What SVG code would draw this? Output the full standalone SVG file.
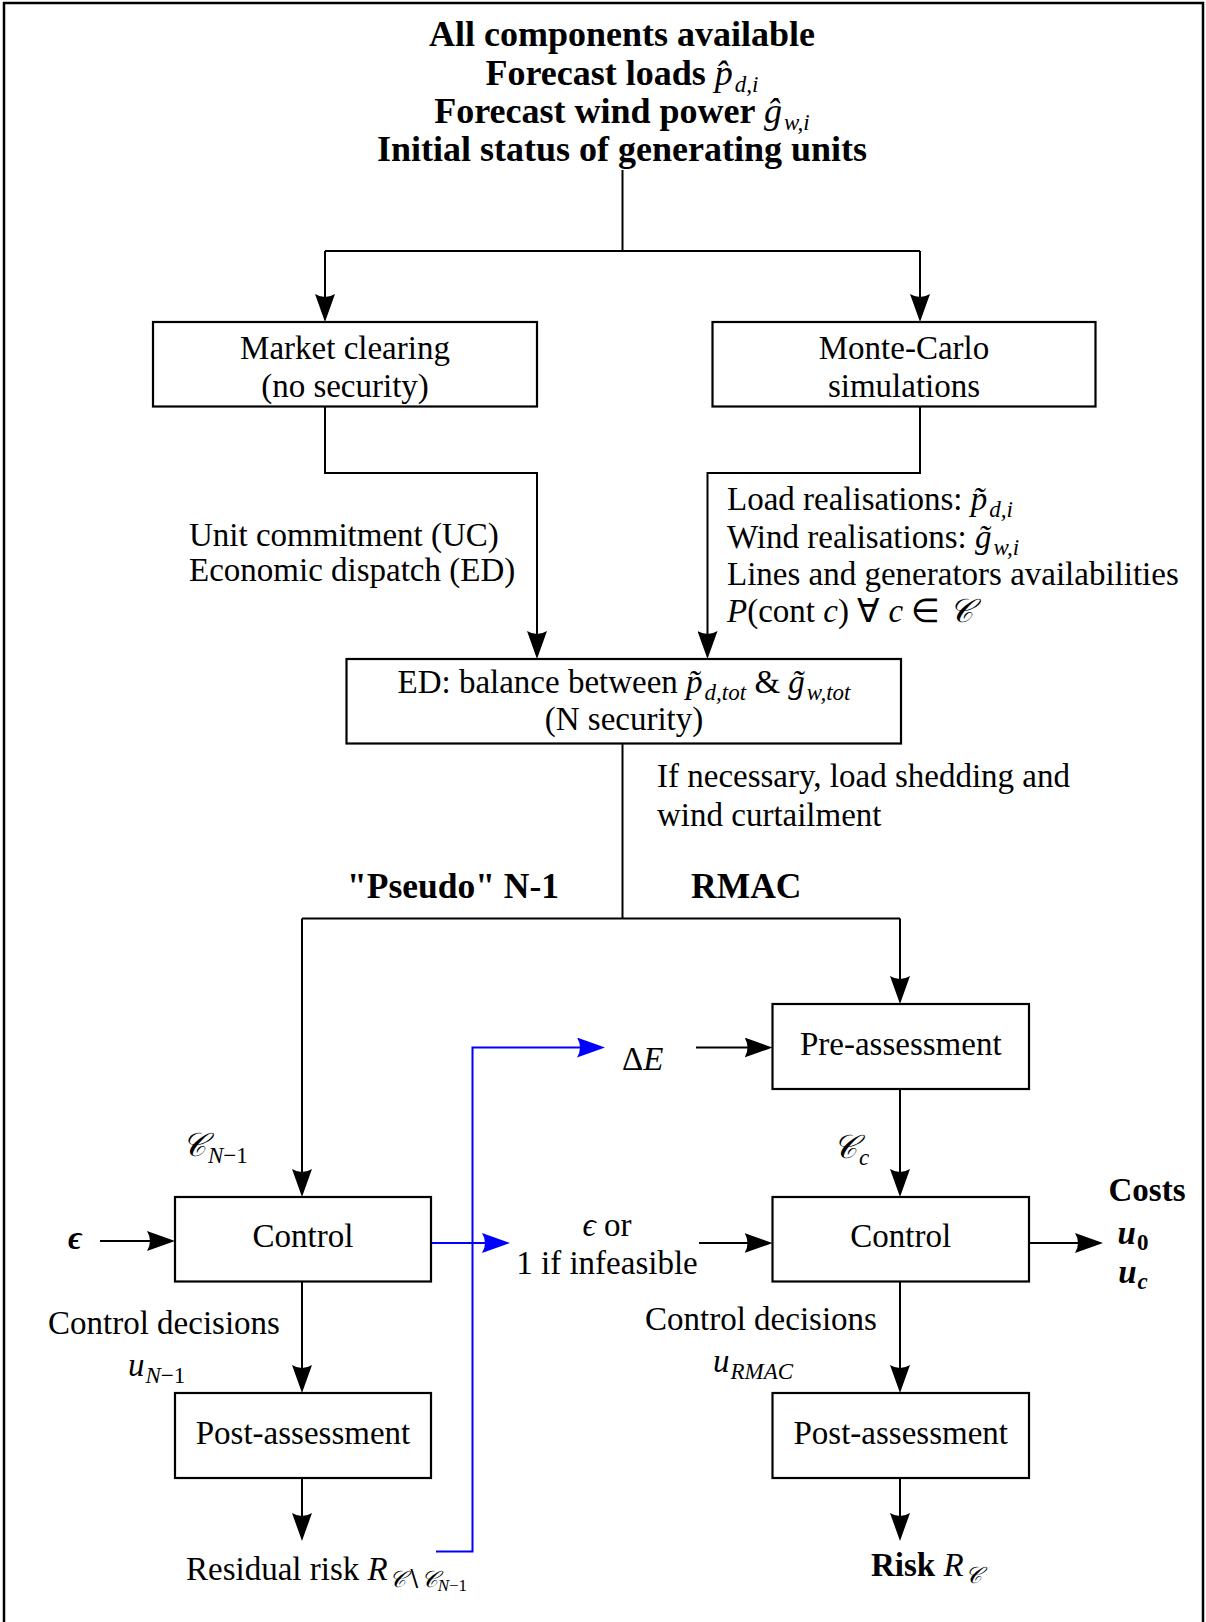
<svg xmlns="http://www.w3.org/2000/svg" width="1206" height="1622" viewBox="0 0 1206 1622">
  <defs>
    <marker id="ah" viewBox="0 0 28 20" refX="20" refY="10" markerWidth="28" markerHeight="20" markerUnits="userSpaceOnUse" orient="auto">
      <path d="M28,10 Q14,5 0,0 Q6,10 0,20 Q14,15 28,10 Z" fill="#000"/>
    </marker>
    <marker id="ahb" viewBox="0 0 28 20" refX="20" refY="10" markerWidth="28" markerHeight="20" markerUnits="userSpaceOnUse" orient="auto">
      <path d="M28,10 Q14,5 0,0 Q6,10 0,20 Q14,15 28,10 Z" fill="#0000ff"/>
    </marker>
    <style>
      .t { font-size: 33px; fill: #000; }
      .b { font-weight: bold; }
      .h { font-size: 36px; }
      .k { font-size: 35.5px; }
      .m { font-style: italic; font-weight: normal; }
      .s { font-size: 23px; }
      .ss { font-size: 17px; }
      .c { text-anchor: middle; }
      .box { fill: #fff; stroke: #000; stroke-width: 2.2; }
      .ln { fill: none; stroke: #000; stroke-width: 2; }
      .ar { fill: none; stroke: #000; stroke-width: 2; marker-end: url(#ah); }
      .bl { fill: none; stroke: #0000ff; stroke-width: 2; marker-end: url(#ahb); }
    </style>
  </defs>

  <rect x="4" y="3" width="1199" height="1640" fill="#fff" stroke="#000" stroke-width="2.5"/>

  <!-- connectors -->
  <g id="connectors">
    <path class="ln" d="M622.5,170 V251"/>
    <path class="ln" d="M325,251 H920"/>
    <path class="ar" d="M325,251 V314"/>
    <path class="ar" d="M920,251 V314"/>
    <path class="ar" d="M325,406.5 V473 H537 V651"/>
    <path class="ar" d="M920,406.5 V473 H707.5 V651"/>
    <path class="ln" d="M622.5,743.5 V918.5"/>
    <path class="ln" d="M302,918.5 H900"/>
    <path class="ar" d="M302,918.5 V1189"/>
    <path class="ar" d="M900,918.5 V996"/>
    <path class="ar" d="M696,1047.5 H764.5"/>
    <path class="ar" d="M900,1089 V1189"/>
    <path class="ar" d="M100,1241 H167"/>
    <path class="ar" d="M699,1243 H764.5"/>
    <path class="ar" d="M1028,1243 H1095"/>
    <path class="ar" d="M302,1281.5 V1385"/>
    <path class="ar" d="M302,1478 V1533"/>
    <path class="ar" d="M900,1281.5 V1385"/>
    <path class="ar" d="M900,1478 V1533"/>
    <path class="bl" d="M431,1243 H502"/>
    <path class="bl" d="M436,1551.5 H472.5 V1047.5 H597"/>
  </g>

  <g font-family="Liberation Serif, Times New Roman, serif">
    <!-- inputs -->
    <g id="inputs">
      <text class="t b h c" x="622" y="46">All components available</text>
      <text class="t b h c" x="622" y="85">Forecast loads <tspan class="m">p̂</tspan><tspan class="m s" dx="2" dy="7">d,i</tspan></text>
      <text class="t b h c" x="622" y="123">Forecast wind power <tspan class="m">ĝ</tspan><tspan class="m s" dx="2" dy="7">w,i</tspan></text>
      <text class="t b h c" x="622" y="161">Initial status of generating units</text>
    </g>

    <g id="market">
      <rect class="box" x="153" y="322" width="384" height="84.5"/>
      <text class="t c" x="345" y="359">Market clearing</text>
      <text class="t c" x="345" y="397">(no security)</text>
    </g>

    <g id="montecarlo">
      <rect class="box" x="712.5" y="322" width="383" height="84.5"/>
      <text class="t c" x="904" y="359">Monte-Carlo</text>
      <text class="t c" x="904" y="397">simulations</text>
    </g>

    <g id="uc-label">
      <text class="t" x="189" y="546">Unit commitment (UC)</text>
      <text class="t" x="189" y="581">Economic dispatch (ED)</text>
    </g>

    <g id="mc-label">
      <text class="t" x="727" y="510">Load realisations: <tspan class="m">p̃</tspan><tspan class="m s" dx="2" dy="7">d,i</tspan></text>
      <text class="t" x="727" y="548">Wind realisations: <tspan class="m">g̃</tspan><tspan class="m s" dx="2" dy="7">w,i</tspan></text>
      <text class="t" x="727" y="585">Lines and generators availabilities</text>
      <text class="t" x="727" y="622"><tspan class="m">P</tspan>(cont <tspan class="m">c</tspan>) ∀ <tspan class="m">c</tspan> ∈ <tspan class="m">𝒞</tspan></text>
    </g>

    <g id="ed">
      <rect class="box" x="346.5" y="659" width="554.5" height="84.5"/>
      <text class="t c" x="624" y="693">ED: balance between <tspan class="m">p̃</tspan><tspan class="m s" dx="2" dy="7">d,tot</tspan><tspan dy="-7"> &amp; </tspan><tspan class="m">g̃</tspan><tspan class="m s" dx="2" dy="7">w,tot</tspan></text>
      <text class="t c" x="624" y="730">(N security)</text>
    </g>

    <g id="ed-label">
      <text class="t" x="657" y="787">If necessary, load shedding and</text>
      <text class="t" x="657" y="826">wind curtailment</text>
    </g>

    <g id="branch-labels">
      <text class="t b k" x="347" y="898">"Pseudo" N-1</text>
      <text class="t b k" x="691" y="898">RMAC</text>
    </g>

    <g id="delta-e">
      <text class="t" x="622" y="1070">Δ<tspan class="m">E</tspan></text>
    </g>

    <g id="pre-assessment">
      <rect class="box" x="772.5" y="1004" width="256.5" height="85"/>
      <text class="t c" x="900.75" y="1055">Pre-assessment</text>
    </g>

    <g id="cn1-label">
      <text class="t" x="182" y="1156"><tspan class="m">𝒞</tspan><tspan class="m s" dx="2" dy="7">N</tspan><tspan class="s">−1</tspan></text>
    </g>

    <g id="cc-label">
      <text class="t" x="833" y="1158"><tspan class="m">𝒞</tspan><tspan class="m s" dx="2" dy="7">c</tspan></text>
    </g>

    <g id="eps-left">
      <text class="t b" x="68" y="1249" font-style="italic">ϵ</text>
    </g>

    <g id="control-left">
      <rect class="box" x="175" y="1197" width="256" height="84.5"/>
      <text class="t c" x="303" y="1247">Control</text>
    </g>

    <g id="eps-right">
      <text class="t c" x="607" y="1236"><tspan class="m">ϵ</tspan> or</text>
      <text class="t c" x="607" y="1274">1 if infeasible</text>
    </g>

    <g id="control-right">
      <rect class="box" x="772.5" y="1197" width="256.5" height="84.5"/>
      <text class="t c" x="900.75" y="1247">Control</text>
    </g>

    <g id="costs">
      <text class="t b c" x="1147" y="1201">Costs</text>
      <text class="t b c" x="1133" y="1244"><tspan font-style="italic">u</tspan><tspan class="s" dx="1" dy="6">0</tspan></text>
      <text class="t b c" x="1133" y="1283"><tspan font-style="italic">u</tspan><tspan class="s" font-style="italic" dx="1" dy="6">c</tspan></text>
    </g>

    <g id="decisions-left">
      <text class="t" x="48" y="1334">Control decisions</text>
      <text class="t" x="128" y="1376"><tspan class="m">u</tspan><tspan class="m s" dx="1" dy="7">N</tspan><tspan class="s">−1</tspan></text>
    </g>

    <g id="decisions-right">
      <text class="t" x="645" y="1330">Control decisions</text>
      <text class="t" x="713" y="1372"><tspan class="m">u</tspan><tspan class="m s" dx="1" dy="7">RMAC</tspan></text>
    </g>

    <g id="post-left">
      <rect class="box" x="175" y="1393" width="256" height="85"/>
      <text class="t c" x="303" y="1444">Post-assessment</text>
    </g>

    <g id="post-right">
      <rect class="box" x="772.5" y="1393" width="256.5" height="85"/>
      <text class="t c" x="900.75" y="1444">Post-assessment</text>
    </g>

    <g id="residual-risk">
      <text class="t" x="186" y="1580">Residual risk <tspan class="m">R</tspan><tspan class="m s" dx="1" dy="7">𝒞</tspan><tspan class="s">∖</tspan><tspan class="m s">𝒞</tspan><tspan class="m ss" dy="4">N</tspan><tspan class="ss">−1</tspan></text>
    </g>

    <g id="risk">
      <text class="t" x="871" y="1576"><tspan class="b">Risk</tspan> <tspan class="m">R</tspan><tspan class="m s" dx="1" dy="7">𝒞</tspan></text>
    </g>
  </g>
</svg>
